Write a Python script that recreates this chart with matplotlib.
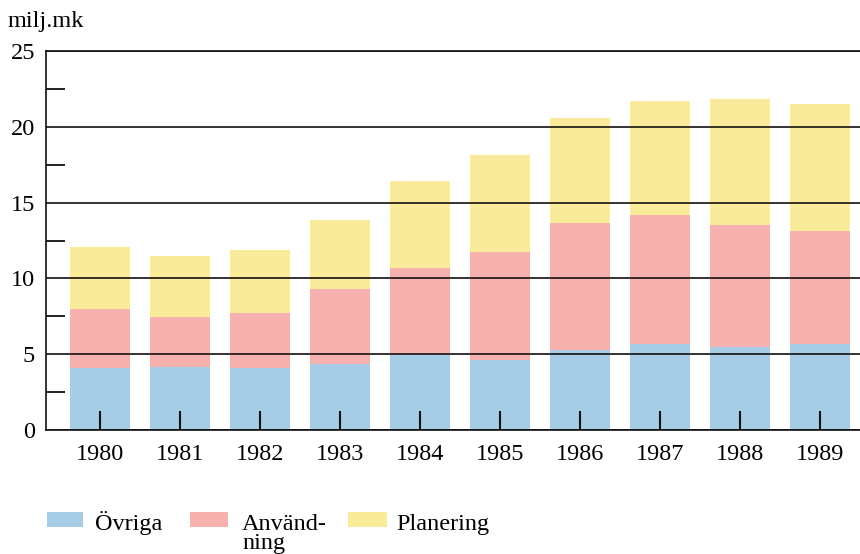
import matplotlib
matplotlib.use("Agg")
import matplotlib.pyplot as plt
from matplotlib.patches import Rectangle
from matplotlib.ticker import MultipleLocator

years = ["1980", "1981", "1982", "1983", "1984", "1985", "1986", "1987", "1988", "1989"]
ovriga = [4.1, 4.15, 4.1, 4.35, 4.95, 4.6, 5.25, 5.7, 5.45, 5.7]
anvandning_top = [8.0, 7.45, 7.7, 9.3, 10.7, 11.75, 13.65, 14.15, 13.55, 13.15]
planering_top = [12.05, 11.5, 11.9, 13.85, 16.4, 18.15, 20.55, 21.7, 21.85, 21.5]

anvandning = [a - o for a, o in zip(anvandning_top, ovriga)]
planering = [p - a for p, a in zip(planering_top, anvandning_top)]

c_blue = "#a6cce6"
c_pink = "#f7b2b0"
c_yellow = "#faeb9a"

plt.rcParams["font.family"] = ["Liberation Serif", "DejaVu Serif"]
FS = 17.5

fig = plt.figure(figsize=(8.6, 5.54), dpi=100)
ax = fig.add_axes([46 / 860, 124 / 554, 1 - 46 / 860, (430 - 51) / 554])

x = list(range(len(years)))
w = 0.76
ax.bar(x, ovriga, width=w, color=c_blue, zorder=1)
ax.bar(x, anvandning, width=w, bottom=ovriga, color=c_pink, zorder=1)
ax.bar(x, planering, width=w, bottom=anvandning_top, color=c_yellow, zorder=1)

ax.set_xlim(-0.675, 9.5)
ax.set_ylim(0, 25)

ax.yaxis.set_major_locator(MultipleLocator(5))
ax.yaxis.set_minor_locator(MultipleLocator(2.5))
ax.grid(axis="y", which="major", color="#111111", linewidth=1.2, zorder=2)
ax.set_axisbelow(False)

ax.tick_params(axis="y", which="major", length=0, pad=8, labelsize=FS)
ax.tick_params(axis="y", which="minor", direction="in", length=14, width=1.3, color="#111111")
ax.set_xticks(x)
ax.set_xticklabels(years)
ax.tick_params(axis="x", which="major", direction="in", length=14, width=1.5,
               color="#111111", pad=10, labelsize=FS)

ax.spines["right"].set_visible(False)
for s in ["left", "bottom", "top"]:
    ax.spines[s].set_color("#111111")
    ax.spines[s].set_linewidth(1.2)

fig.text(8 / 860, 1 - 27 / 554, "milj.mk", fontsize=FS, ha="left", va="baseline")

H = 554.0
def fx(px):
    return px / 860.0
def fy(py):
    return 1 - py / H

legend_items = [
    (47, 83, c_blue, 95, "Övriga", 530),
    (190, 228, c_pink, 242, "Använd-\nning", 549),
    (348, 387, c_yellow, 396, "Planering", 530),
]
for x0, x1, col, tx, label, base in legend_items:
    fig.add_artist(Rectangle((fx(x0), fy(527)), fx(x1) - fx(x0), (527 - 512) / H,
                             transform=fig.transFigure, facecolor=col, edgecolor="none"))
    fig.text(fx(tx), fy(base), label, fontsize=FS, ha="left", va="baseline",
             linespacing=0.85)

fig.savefig("out.png", dpi=100)
